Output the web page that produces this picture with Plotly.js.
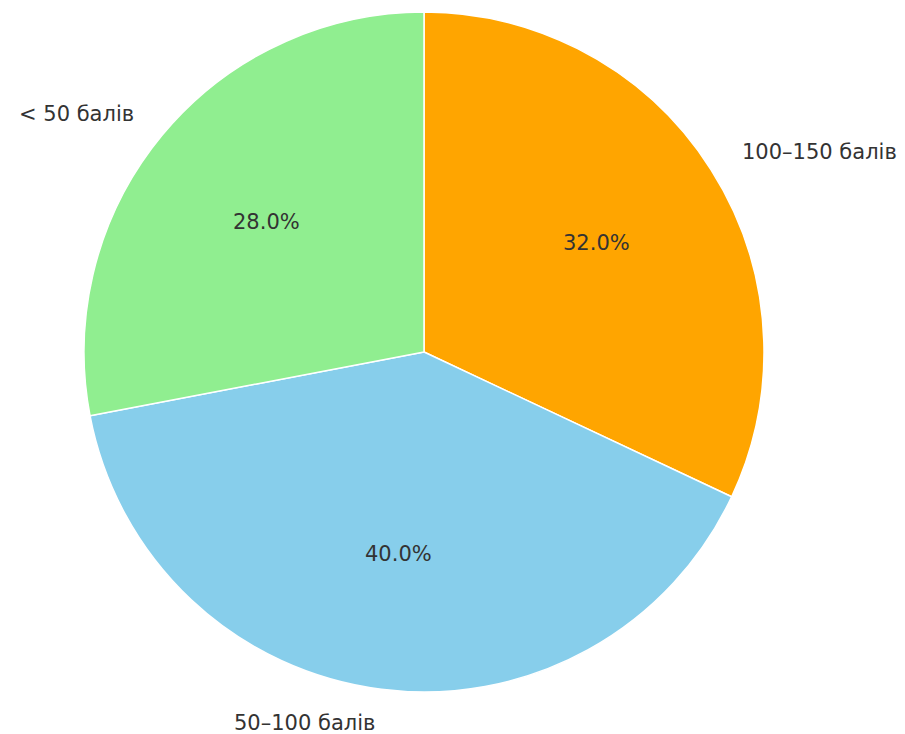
<!DOCTYPE html>
<html>
<head>
<meta charset="utf-8">
<script src="https://cdn.plot.ly/plotly-3.0.1.min.js"></script>
<style>html,body{margin:0;padding:0;background:#fff;}</style>
</head>
<body>
<div id="chart" style="width:905px;height:734px;"></div>
<script>
const categories = ["< 50 балів", "50–100 балів", "100–150 балів"];
const shares = [28, 40, 32];
const colors = ["#90EE90", "#87CEEB", "#FFA500"];

const total = shares.reduce((a, b) => a + b, 0);
const annotations = [];
let start = 90;
shares.forEach((v, i) => {
  const span = v / total * 360;
  const mid = (start + span / 2) * Math.PI / 180;
  start += span;
  const c = Math.cos(mid), s = Math.sin(mid);
  annotations.push({
    xref: "paper", yref: "paper",
    x: 0.5 + 0.55 * c, y: 0.5 + 0.55 * s,
    text: categories[i], showarrow: false,
    xanchor: c < 0 ? "right" : "left", yanchor: "middle",
    font: {family: "DejaVu Sans", size: 21, color: "#333333"}
  });
  annotations.push({
    xref: "paper", yref: "paper",
    x: 0.5 + 0.3 * c, y: 0.5 + 0.3 * s,
    text: (v / total * 100).toFixed(1) + "%", showarrow: false,
    xanchor: "center", yanchor: "middle",
    font: {family: "DejaVu Sans", size: 21, color: "#333333"}
  });
});

// Counterclockwise from 12 o'clock == clockwise from 12 o'clock with the order reversed
const rev = a => a.slice().reverse();

const data = [{
  type: "pie",
  labels: rev(categories),
  values: rev(shares),
  sort: false,
  direction: "clockwise",
  rotation: 0,
  textinfo: "none",
  hoverinfo: "label+percent",
  marker: {colors: rev(colors), line: {color: "#ffffff", width: 1.5}},
  showlegend: false
}];

const layout = {
  width: 905, height: 734,
  margin: {l: 84, r: 141, t: 12, b: 42},
  paper_bgcolor: "#ffffff",
  showlegend: false,
  annotations: annotations,
  font: {family: "DejaVu Sans"}
};

Plotly.newPlot("chart", data, layout, {displayModeBar: false, staticPlot: true});
</script>
</body>
</html>
